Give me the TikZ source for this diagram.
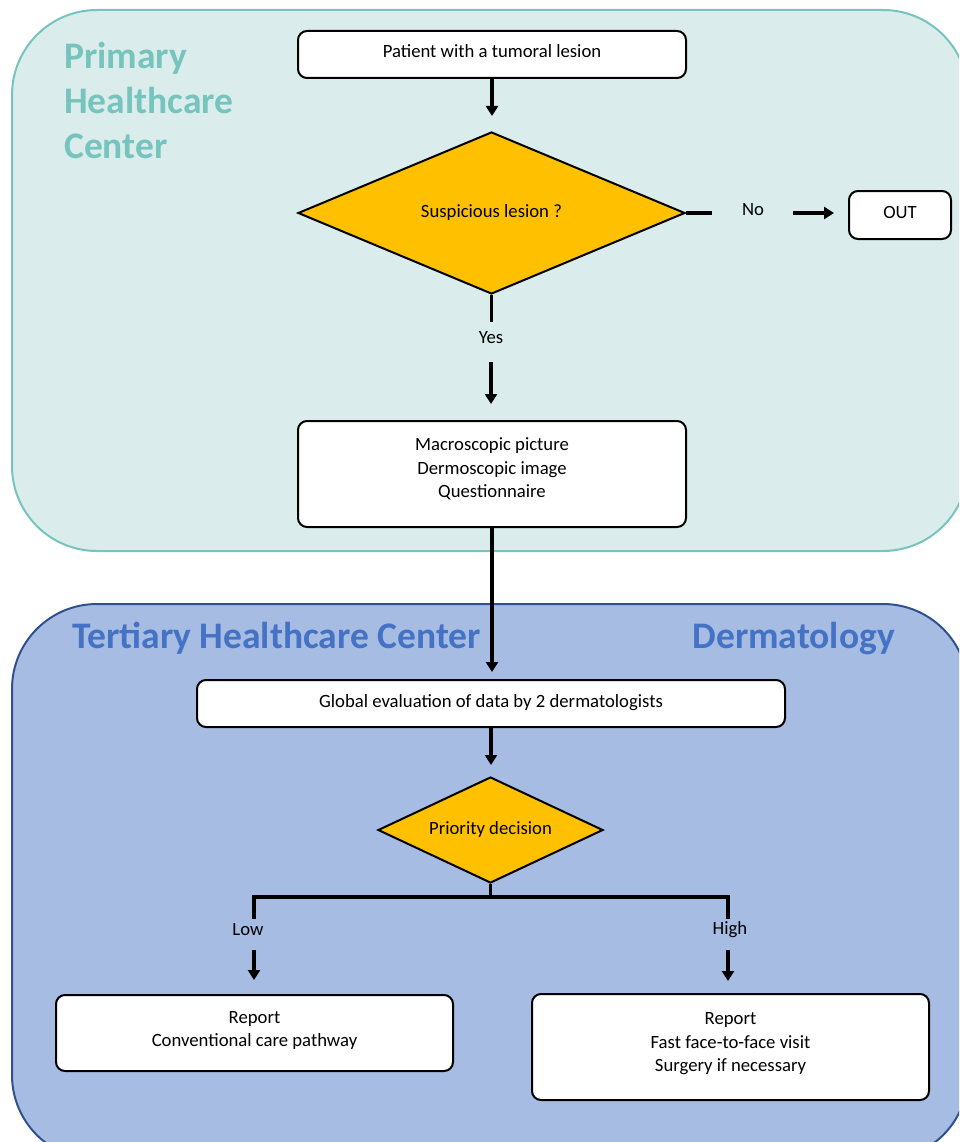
\documentclass[tikz,border=0pt]{standalone}
\usepackage{fontspec}
\setmainfont{Carlito}
\usetikzlibrary{arrows.meta,shapes.geometric}
\definecolor{tealfill}{HTML}{DAEDEC}
\definecolor{tealline}{HTML}{76C4BD}
\definecolor{bluefill}{HTML}{A7BCE2}
\definecolor{blueline}{HTML}{2F528F}
\definecolor{titleblue}{HTML}{4472C4}
\definecolor{gold}{HTML}{FFC000}
\tikzset{
  region/.style={rounded corners=85pt, line width=2pt},
  stepbox/.style={draw=black, fill=white, line width=2pt, rounded corners=9pt,
    align=center, inner sep=0pt, text depth=6pt, font=\fontsize{18.7}{23.5}\selectfont},
  multibox/.style={stepbox, text depth=12pt},
  decide/.style={diamond, draw=black, fill=gold, line width=2pt, inner sep=0pt,
    font=\fontsize{18.7}{22}\selectfont},
  lbl/.style={font=\fontsize{18.7}{22}\selectfont, inner sep=0pt},
  conn/.style={line width=3.4pt},
  arr/.style={line width=3.4pt, -{Triangle[width=12pt,length=10pt]}},
  bigtitle/.style={font=\fontsize{37.5}{45}\selectfont\bfseries, inner sep=0pt}
}
\begin{document}
\begin{tikzpicture}[x=1pt,y=-1pt]
\useasboundingbox (0,0) rectangle (959,1142);
\begin{scope}
\clip (0,0) rectangle (959,1142);
\draw[region, fill=tealfill, draw=tealline] (12,10) rectangle (968,551);
\draw[region, fill=bluefill, draw=blueline] (12,604) rectangle (968,1160);
\end{scope}

\node[bigtitle, text=tealline, anchor=north west, align=left] (primary) at (64,42)
  {Primary\\Healthcare\\Center};
\node[bigtitle, text=titleblue, anchor=base west] (tertiary) at (72,648) {Tertiary Healthcare Center};
\node[bigtitle, text=titleblue, anchor=base east] (derma) at (895,648) {Dermatology};

\node[stepbox, minimum width=388pt, minimum height=47pt] (patient) at (492,54.5) {Patient with a tumoral lesion};
\node[decide, aspect=2.4, minimum width=387pt, minimum height=162pt] (susp) at (491.5,213) {Suspicious lesion ?};
\node[stepbox, minimum width=102pt, minimum height=48pt] (out) at (900,215) {OUT};
\node[multibox, minimum width=388pt, minimum height=106pt] (macro) at (492,474)
  {Macroscopic picture\\Dermoscopic image\\Questionnaire};
\node[stepbox, minimum width=588pt, minimum height=47pt] (global) at (491,703.5) {Global evaluation of data by 2 dermatologists};
\node[decide, aspect=2.2, minimum width=225pt, minimum height=106pt] (prio) at (490.5,830) {Priority decision};
\node[multibox, text depth=8pt, minimum width=397pt, minimum height=76pt] (low) at (254.5,1033) {Report\\Conventional care pathway};
\node[multibox, text depth=10pt, minimum width=397pt, minimum height=106pt] (high) at (730.5,1047)
  {Report\\Fast face-to-face visit\\Surgery if necessary};

\node[lbl] (no) at (753,210) {No};
\node[lbl] (yes) at (491,338) {Yes};
\node[lbl] (lowl) at (248,930) {Low};
\node[lbl] (highl) at (730,930) {High};

\coordinate (noend) at (712,211);
\coordinate (nostart) at (793,213);
\coordinate (yesend) at (491,322);
\coordinate (yesstart) at (491,362);
\coordinate (split) at (491,897);
\coordinate (lowtop) at (254,897);
\coordinate (hightop) at (728,897);
\coordinate (lowend) at (254,917);
\coordinate (highend) at (728,917);
\coordinate (lowstart) at (254,950);
\coordinate (highstart) at (728,950);

\draw[arr, shorten >=15pt] (patient.south) -- (patient.south |- susp.north);
\draw[conn] (susp.east) -- (susp.east -| noend);
\draw[arr, shorten >=14pt] (nostart) -- (nostart -| out.west);
\draw[conn] (susp.south) -- (susp.south |- yesend);
\draw[arr, shorten >=16pt] (yesstart) -- (yesstart |- macro.north);
\draw[arr, shorten >=7pt] (macro.south) -- (macro.south |- global.north);
\draw[arr, shorten >=11pt] (global.south) -- (global.south |- prio.north);
\draw[conn] (prio.south) -- (prio.south |- split);
\draw[conn, line cap=rect] (lowend) -- (lowtop) -- (hightop) -- (highend);
\draw[arr, shorten >=14pt] (lowstart) -- (lowstart |- low.north);
\draw[arr, shorten >=12pt] (highstart) -- (highstart |- high.north);
\end{tikzpicture}
\end{document}
